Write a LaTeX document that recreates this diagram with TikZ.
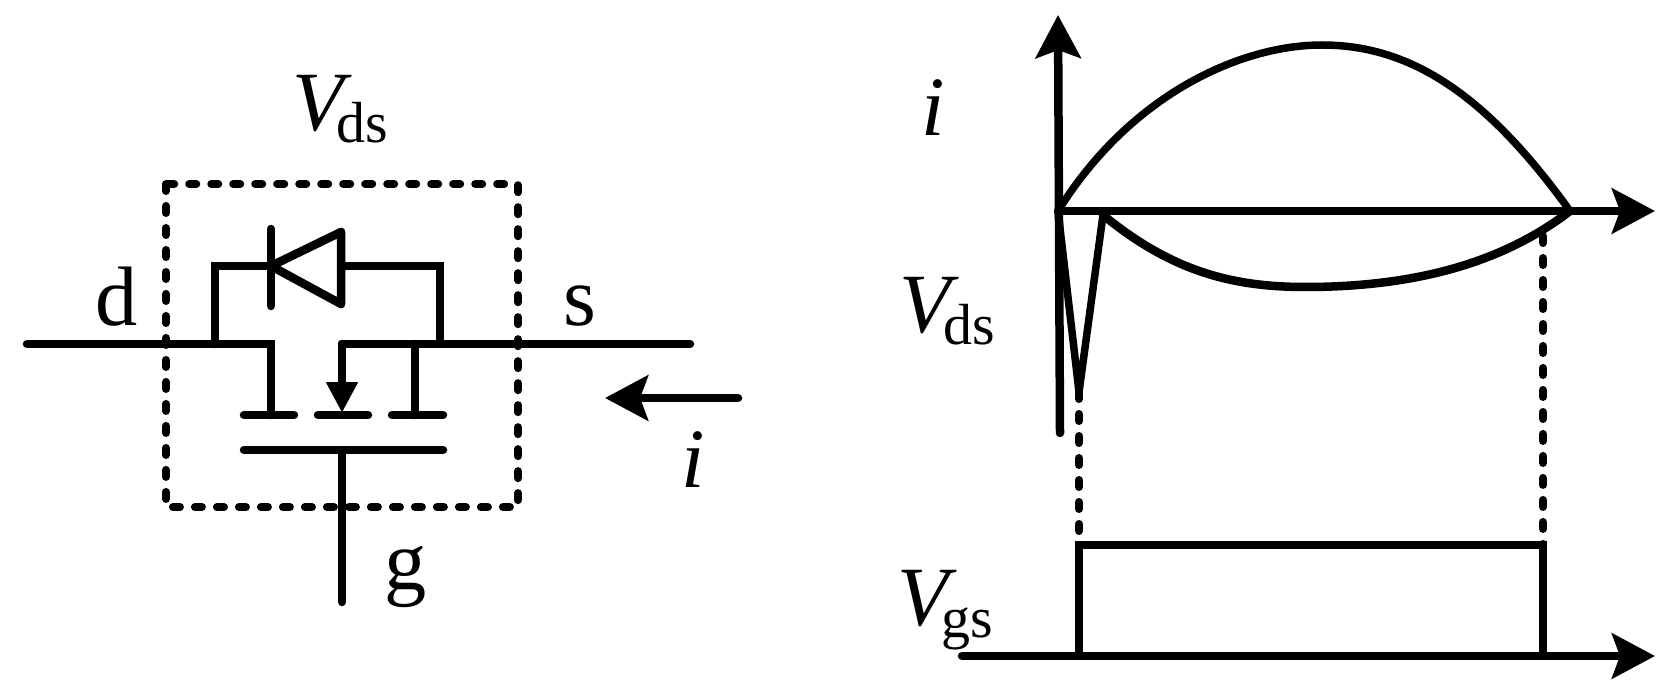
\documentclass[tikz,border=0pt]{standalone}
\usepackage{fontspec}
\setmainfont{Liberation Serif}
\usetikzlibrary{arrows.meta}
\newcommand{\Vsub}[1]{\textit{V}\kern-9pt\raisebox{-7pt}{\fontsize{33}{33}\selectfont #1}}
\tikzset{
	wire/.style={line width=0.17cm, line cap=round, line join=miter},
	thin wire/.style={line width=0.15cm, line cap=round},
	dots/.style={line width=0.16cm, line cap=round, dash pattern=on 0.14cm off 0.30cm},
	tip/.style={-{Stealth[length=0.86cm,width=0.9cm,inset=0.16cm]}},
	lab/.style={inner sep=0pt, font=\fontsize{48}{48}\selectfont}
}

\begin{document}
\begin{tikzpicture}[x=0.02cm,y=-0.02cm]
	\useasboundingbox (0,0) rectangle (1676,699);
	
	% switch
	\coordinate (l) at (27,344);
	\coordinate (r) at (690,344);
	\coordinate (dt) at (271,344);
	\coordinate (db) at (271,415);
	\coordinate (st) at (342,344);
	\coordinate (sb) at (342,413);
	\coordinate (bt) at (415,344);
	\coordinate (bb) at (415,415);
	\coordinate (g0) at (342,452);
	\coordinate (g1) at (342,602);
	\coordinate (p0) at (244,415);
	\coordinate (p1) at (294,415);
	\coordinate (p2) at (318,415);
	\coordinate (p3) at (368,415);
	\coordinate (p4) at (392,415);
	\coordinate (p5) at (443,415);
	\coordinate (q0) at (244,450);
	\coordinate (q1) at (443,450);
	
	\draw[wire] (l) -- (dt) -- (db);
	\draw[wire] (r) -- (st);
	\draw[wire,-{Stealth[length=0.62cm,width=0.6cm,inset=0cm]}] (st) -- (sb);
	\draw[wire] (bt) -- (bb);
	\draw[wire] (g0) -- (g1);
	\draw[wire] (p0) -- (p1);
	\draw[wire] (p2) -- (p3);
	\draw[wire] (p4) -- (p5);
	\draw[wire] (q0) -- (q1);
	
	% diode
	\coordinate (a) at (215,344);
	\coordinate (a1) at (215,266);
	\coordinate (k) at (271,266);
	\coordinate (k0) at (271,229);
	\coordinate (k1) at (271,306);
	\coordinate (c0) at (341,232);
	\coordinate (c1) at (341,304);
	\coordinate (c) at (341,266);
	\coordinate (b) at (440,266);
	\coordinate (b1) at (440,344);
	\draw[wire] (a) -- (a1) -- (k);
	\draw[wire] (k0) -- (k1);
	\draw[wire,line join=round] (k) -- (c0) -- (c1) -- cycle;
	\draw[wire] (c) -- (b) -- (b1);
	
	\coordinate (box0) at (166,184);
	\coordinate (box1) at (518,507);
	\draw[dots] (box0) rectangle (box1);
	
	\coordinate (i0) at (738,398);
	\coordinate (i1) at (605,398);
	\draw[wire,tip] (i0) -- (i1);
	
	\node[lab] (vds) at (340,109) {\Vsub{ds}};
	\node[lab] (d) at (117,297) {d};
	\node[lab] (s) at (580,306) {s};
	\node[lab] (g) at (406,577) {g};
	\node[lab] (cur) at (693,460) {\textit{i}};
	
	% waveforms
	\coordinate (o) at (1058,211);
	\coordinate (ytop) at (1058,15);
	\coordinate (ybot) at (1060,433);
	\coordinate (xend) at (1655,211);
	\coordinate (end) at (1570,211);
	\coordinate (spike) at (1079,392);
	\coordinate (back) at (1103,215);
	\coordinate (g2) at (1079,545);
	\coordinate (g3) at (1543,545);
	\coordinate (g4) at (1079,656);
	\coordinate (g5) at (1543,656);
	\coordinate (g6) at (962,656);
	\coordinate (g7) at (1655,656);
	\coordinate (u0) at (1543,236);
	
	\draw[wire,tip] (ybot) -- (ytop);
	\draw[wire,tip] (o) -- (xend);
	\draw[thin wire] (o) .. controls (1130,95) and (1240,45) .. (1322,45)
		.. controls (1415,45) and (1490,100) .. (end);
	\draw[thin wire,line join=round] (o) -- (spike) -- (back);
	\draw[wire] (back) .. controls (1170,270) and (1230,287) .. (1305,287)
		.. controls (1410,287) and (1500,265) .. (end);
	\draw[dots] (spike) -- (g2);
	\draw[dots] (u0) -- (g3);
	\draw[thin wire] (g4) -- (g2) -- (g3) -- (g5);
	\draw[wire,tip] (g6) -- (g7);
	
	\node[lab] (cur2) at (933,108) {\textit{i}};
	\node[lab] (vds2) at (947,311) {\Vsub{ds}};
	\node[lab] (vgs) at (945,610) {\Vsub{gs}};
\end{tikzpicture}
\end{document}
